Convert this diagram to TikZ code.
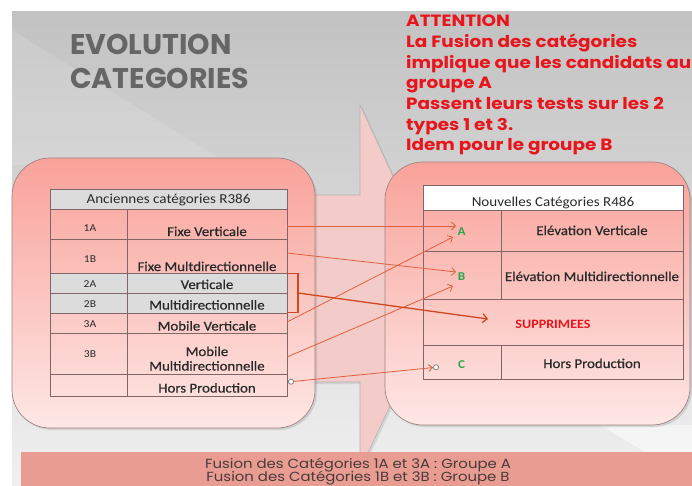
\documentclass[tikz,border=0pt]{standalone}
\usepackage{fontspec}
\setmainfont{Carlito}[FakeStretch=1.1]
\newfontfamily\cellfont{Carlito}[FakeStretch=1.1,FakeBold=0.6]
\newfontfamily\gothic{Poppins}
\newfontfamily\gothicwide{Poppins}[FakeStretch=1.13]
\usetikzlibrary{arrows.meta,shadows}
\definecolor{titlegray}{HTML}{666666}
\definecolor{attred}{HTML}{E8161C}
\definecolor{boxtop}{HTML}{F9A29A}
\definecolor{boxbot}{HTML}{FDE7E5}
\definecolor{boxline}{HTML}{A08484}
\definecolor{arrowpink}{HTML}{F3CBC8}
\definecolor{gridline}{HTML}{806666}
\definecolor{cellgray}{HTML}{DCDCDC}
\definecolor{arrowor}{HTML}{E0613D}
\definecolor{bracketred}{HTML}{D04820}
\definecolor{greenlbl}{HTML}{2AA64A}
\definecolor{bandpink}{HTML}{E89C92}
\definecolor{bandtext}{HTML}{4A3B3B}
\definecolor{celltext}{HTML}{2A2A2A}
\tikzset{
  roundbox/.style={draw=boxline, line width=0.7pt, rounded corners=38pt, top color=boxtop, bottom color=boxbot,
    drop shadow={opacity=0.25, shadow xshift=2pt, shadow yshift=-2pt}},
  grid/.style={draw=gridline, line width=0.6pt},
  headtxt/.style={font=\fontsize{13.7}{15}\selectfont, text=celltext, anchor=base, inner sep=0pt},
  celltxt/.style={font=\cellfont\fontsize{13.5}{15}\selectfont, text=celltext, anchor=base, inner sep=0pt},
  codetxt/.style={font=\fontsize{10.5}{12}\selectfont, text=celltext, anchor=base, inner sep=0pt},
  grn/.style={font=\fontsize{12}{13}\selectfont\bfseries, text=greenlbl, anchor=base, inner sep=0pt},
  attline/.style={font=\gothicwide\bfseries\fontsize{16.3}{18}\selectfont, text=attred, anchor=base west, inner sep=0pt},
  titleline/.style={font=\gothic\bfseries\fontsize{28.5}{30}\selectfont, text=titlegray, anchor=base west, inner sep=0pt},
  bandline/.style={font=\gothicwide\fontsize{13.2}{14}\selectfont, text=bandtext, anchor=base, inner sep=0pt},
  link/.style={draw=arrowor, line width=0.8pt, -{Straight Barb[length=4pt,width=8pt]}},
}
\begin{document}
\begin{tikzpicture}[x=1pt,y=-1pt]
\useasboundingbox (0,0) rectangle (692,486);
\fill[white] (0,0) rectangle (692,486);
% slide background
\shade[top color={rgb,255:red,194;green,194;blue,194}, bottom color={rgb,255:red,240;green,240;blue,240}] (12,12) rectangle (692,486);
\fill[white, opacity=0.12] (12,30) -- (230,165) -- (12,165) -- cycle;
\fill[white, opacity=0.5] (600,425) -- (692,425) -- (692,455) -- (650,455) -- cycle;
% big arrow
\filldraw[fill=arrowpink, draw=gray!60, line width=0.6pt, drop shadow={opacity=0.2, shadow xshift=2pt, shadow yshift=-2pt}]
  (250,195) -- (360,195) -- (360,105) -- (445,288) -- (360,470) -- (360,382) -- (250,382) -- cycle;
% rounded boxes
\path[roundbox] (12,158) rectangle (315,428);
\path[roundbox] (385,162) rectangle (690,425);
% bottom band
\fill[bandpink] (21,452) rectangle (692,486);
\node[bandline] (band1) at (358,468.5) {Fusion des Catégories 1A et 3A : Groupe A};
\node[bandline] (band2) at (358,481.3) {Fusion des Catégories 1B et 3B : Groupe B};
% title
\node[titleline] (t1) at (70,55) {EVOLUTION};
\node[titleline] (t2) at (70,89) {CATEGORIES};
% attention text
\node[attline] (at1) at (406,27) {ATTENTION};
\node[attline] (at2) at (406,48) {La Fusion des catégories};
\node[attline] (at3) at (406,68.5) {implique que les candidats au};
\node[attline] (at4) at (406,89) {groupe A};
\node[attline] (at5) at (406,110) {Passent leurs tests sur les 2};
\node[attline] (at6) at (406,130.5) {types 1 et 3.};
\node[attline] (at7) at (406,151) {Idem pour le groupe B};
% left table
\fill[cellgray] (50,189) rectangle (287,209);
\fill[cellgray] (50,273) rectangle (287,313);
\draw[grid] (50,189) rectangle (287,396);
\foreach \yy in {209,239,273,293,313,333,374} \draw[grid] (50,\yy) -- (287,\yy);
\draw[grid] (127,209) -- (127,396);
\node[headtxt] (lh) at (168.5,204) {Anciennes catégories R386};
\node[codetxt] (c1a) at (90,231) {1A};
\node[codetxt] (c1b) at (90,262) {1B};
\node[codetxt] (c2a) at (90,287) {2A};
\node[codetxt] (c2b) at (90,307) {2B};
\node[codetxt] (c3a) at (90,327) {3A};
\node[codetxt] (c3b) at (90,357) {3B};
\node[celltxt] (l1a) at (207,236) {Fixe Verticale};
\node[celltxt] (l1b) at (207,271) {Fixe Multdirectionnelle};
\node[celltxt] (l2a) at (207,289) {Verticale};
\node[celltxt] (l2b) at (207,309.5) {Multidirectionnelle};
\node[celltxt] (l3a) at (207,330.5) {Mobile Verticale};
\node[celltxt] (l3b1) at (207,356) {Mobile};
\node[celltxt] (l3b2) at (207,370.5) {Multidirectionnelle};
\node[celltxt] (lhp) at (207,392.5) {Hors Production};
% right table
\fill[white] (423,185) rectangle (683,210);
\draw[grid] (423,185) rectangle (683,379);
\foreach \yy in {210,251,299,345} \draw[grid] (423,\yy) -- (683,\yy);
\draw[grid] (501,210) -- (501,299);
\draw[grid] (501,345) -- (501,379);
\node[headtxt] (rh) at (553,207) {Nouvelles Catégories R486};
\node[grn] (ra) at (461.5,235) {A};
\node[grn] (rb) at (461.5,280) {B};
\node[grn] (rc) at (461.5,368) {C};
\node[celltxt] (rev) at (592,235) {Elévation Verticale};
\node[celltxt] (rem) at (592,281) {Elévation Multidirectionnelle};
\node[celltxt, font=\fontsize{12.8}{14}\selectfont\bfseries, text=attred] (sup) at (553,328) {SUPPRIMEES};
\node[celltxt] (rhp) at (592,368) {Hors Production};
% connectors
\coordinate (s1) at (287,226); \coordinate (e1) at (456,226);
\coordinate (s2) at (287,253); \coordinate (e2) at (456,272);
\coordinate (s3) at (287,322); \coordinate (e3) at (453,237);
\coordinate (s4) at (287,357); \coordinate (e4) at (453,286);
\coordinate (bt) at (287,273.5); \coordinate (bb) at (287,312.5);
\coordinate (bm) at (298,293); \coordinate (e5) at (488,319);
\coordinate (s6) at (288,382); \coordinate (e6) at (439,367);
\draw[link] (s1) -- (e1);
\draw[link] (s2) -- (e2);
\draw[link] (s3) -- (e3);
\draw[link] (s4) -- (e4);
\draw[draw=bracketred, line width=1.3pt] (bt) -| (bm) |- (bb);
\draw[draw=bracketred, line width=1.3pt, -{Straight Barb[length=4.5pt,width=9pt]}] (bm) -- (e5);
\draw[draw=arrowor, line width=0.8pt, {Circle[open,fill=white,color=gray,length=6pt,width=6pt]}-{Straight Barb[length=4pt,width=7pt] Circle[open,fill=white,color=gray,length=6pt,width=6pt]}] (s6) -- (e6);
\end{tikzpicture}
\end{document}
